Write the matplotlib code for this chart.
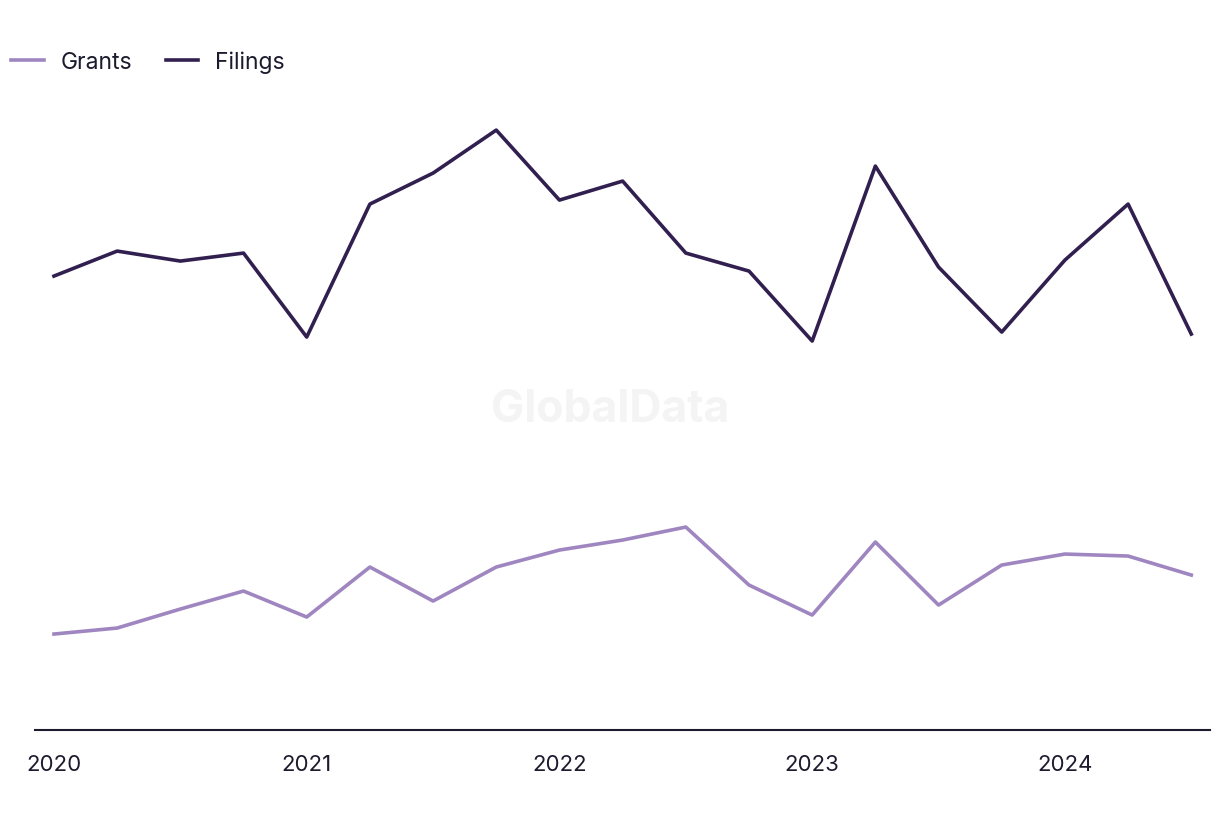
import matplotlib
matplotlib.use("Agg")
from matplotlib import pyplot as plt

# quarterly data, 2020 Q1 .. 2024 Q3
quarters = [2020 + i * 0.25 for i in range(19)]
filings = [454, 479, 469, 477, 393, 526, 557, 600, 530, 549, 477, 459, 389, 564, 463, 398, 470, 526, 396]
grants = [96, 102, 121, 139, 113, 163, 129, 163, 180, 190, 203, 145, 115, 188, 125, 165, 176, 174, 155]
year_ticks = [2020, 2021, 2022, 2023, 2024]

plt.rcParams['font.family'] = ['Inter', 'DejaVu Sans']
text_col = '#1c1b2e'

fig = plt.figure(figsize=(12.2, 8.2), dpi=100)
ax = fig.add_axes([0.0287, 0.1085, 0.9631, 0.767])

ax.plot(quarters, grants, color='#9f86c0', lw=2.6, label='Grants')
ax.plot(quarters, filings, color='#31204f', lw=2.6, label='Filings')

ax.set_xlim(2019.925, 2024.574)
ax.set_ylim(0, 629)
ax.set_xticks(year_ticks)
ax.set_xticklabels([str(y) for y in year_ticks], fontsize=16, color=text_col)
ax.tick_params(axis='x', length=0, pad=17)
ax.set_yticks([])
for s in ['top', 'right', 'left']:
    ax.spines[s].set_visible(False)
ax.spines['bottom'].set_color(text_col)
ax.spines['bottom'].set_linewidth(1.5)

# watermark
fig.text(0.5, 0.5, 'GlobalData', fontsize=32, fontweight='bold', color='#f4f4f4',
         ha='center', va='center', zorder=0)

leg = fig.legend(loc='upper left', bbox_to_anchor=(-0.0075, 0.962), ncol=2, frameon=False,
                 fontsize=16.5, handlelength=1.4, columnspacing=1.45, handletextpad=0.75)
for t in leg.get_texts():
    t.set_color(text_col)

plt.savefig('out.png', dpi=100)
